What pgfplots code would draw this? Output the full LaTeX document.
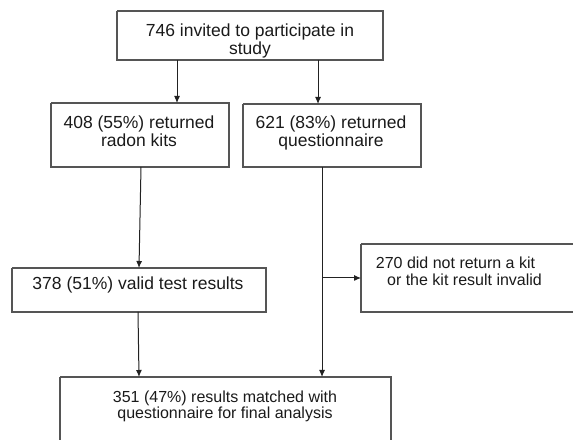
\documentclass[border=0pt]{standalone}
\usepackage{pgfplots}
\pgfplotsset{compat=1.18}
\usepackage{fontspec}
\setmainfont{Liberation Sans}
\usetikzlibrary{arrows.meta}
\definecolor{boxc}{HTML}{555555}
\definecolor{arrc}{HTML}{222222}
\definecolor{txtc}{HTML}{1A1A1A}
\tikzset{lbl/.style={font=\fontsize{17.5bp}{19bp}\selectfont, text=txtc, inner sep=0pt, anchor=base},
         lbls/.style={font=\fontsize{16bp}{18bp}\selectfont, text=txtc, inner sep=0pt, anchor=base}}
\begin{document}
\begin{tikzpicture}
\begin{axis}[
  width=573bp, height=440bp, scale only axis,
  xmin=0, xmax=573, ymin=0, ymax=440, y dir=reverse,
  axis line style={draw=none}, ticks=none, clip=true,
]
% boxes (pixel coordinates of the reference)
\addplot[boxc, line width=1.3bp] coordinates {(117,11) (383,11) (383,60) (117,60) (117,11)};
\addplot[boxc, line width=1.3bp] coordinates {(51,103) (229,103) (229,167) (51,167) (51,103)};
\addplot[boxc, line width=1.3bp] coordinates {(243,104) (421,104) (421,167) (243,167) (243,104)};
\addplot[boxc, line width=1.3bp] coordinates {(12,268) (266,268) (266,312) (12,312) (12,268)};
\addplot[boxc, line width=1.3bp] coordinates {(361,244) (600,244) (600,312) (361,312) (361,244)};
\addplot[boxc, line width=1.3bp] coordinates {(60,377) (391,377) (391,460) (60,460) (60,377)};
% connectors
\addplot[arrc, line width=1bp, -{Latex[length=7bp,width=6bp]}] coordinates {(177,60) (177,103)};
\addplot[arrc, line width=1bp, -{Latex[length=7bp,width=6bp]}] coordinates {(318,60) (318,104)};
\addplot[arrc, line width=1bp, -{Latex[length=7bp,width=6bp]}] coordinates {(141,167) (139,268)};
\addplot[arrc, line width=1bp, -{Latex[length=7bp,width=6bp]}] coordinates {(322,167) (322,377)};
\addplot[arrc, line width=1bp, -{Latex[length=7bp,width=6bp]}] coordinates {(322,278) (361,278)};
\addplot[arrc, line width=1bp, -{Latex[length=7bp,width=6bp]}] coordinates {(138,312) (139,377)};
% texts
\node[lbl] at (axis cs:250,37) {746 invited to participate in};
\node[lbl] at (axis cs:250,54.5) {study};
\node[lbl] at (axis cs:139,129) {408 (55\%) returned};
\node[lbl] at (axis cs:139,147) {radon kits};
\node[lbl] at (axis cs:331,129) {621 (83\%) returned};
\node[lbl] at (axis cs:331,147) {questionnaire};
\node[lbl] at (axis cs:138,290) {378 (51\%) valid test results};
\node[lbls] at (axis cs:455.5,268.5) {270 did not return a kit};
\node[lbls] at (axis cs:464.5,286) {or the kit result invalid};
\node[lbls] at (axis cs:225,403) {351 (47\%) results matched with};
\node[lbls] at (axis cs:225,418.5) {questionnaire for final analysis};
\end{axis}
\end{tikzpicture}
\end{document}
